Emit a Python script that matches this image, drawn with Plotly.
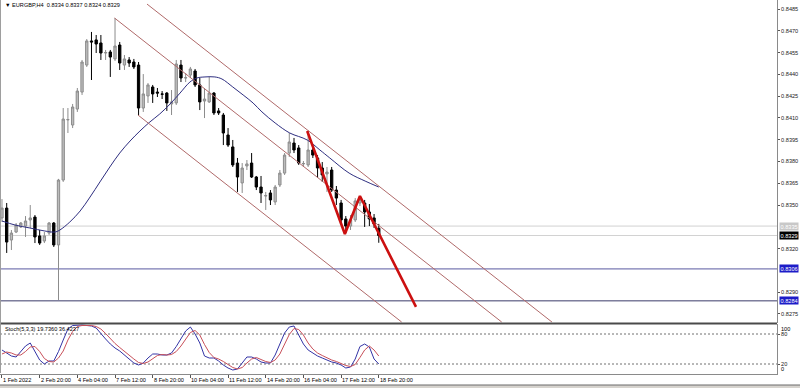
import plotly.graph_objects as go

# ---------------- data ----------------
bars = list(range(81))
opens = [0.83411, 0.83479, 0.83259, 0.83314, 0.83349, 0.83355, 0.83397, 0.83417, 0.83287, 0.83252,
         0.83307, 0.83376, 0.83225, 0.83672, 0.84086, 0.84051, 0.84161, 0.84278, 0.84464, 0.84630,
         0.84637, 0.84616, 0.84547, 0.84554, 0.84506, 0.84602, 0.84464, 0.84499, 0.84485, 0.84464,
         0.84168, 0.84251, 0.84313, 0.84278, 0.84265, 0.84271, 0.84196, 0.84203, 0.84464, 0.84375,
         0.84395, 0.84423, 0.84327, 0.84216, 0.84210, 0.84271, 0.84148, 0.84120, 0.83982, 0.83900,
         0.83789, 0.83652, 0.83769, 0.83789, 0.83693, 0.83624, 0.83562, 0.83583, 0.83521, 0.83638,
         0.83720, 0.83858, 0.83927, 0.83893, 0.83783, 0.83776, 0.83879, 0.83824, 0.83755, 0.83714,
         0.83741, 0.83603, 0.83514, 0.83404, 0.83355, 0.83397, 0.83514, 0.83514, 0.83452, 0.83411,
         0.83340]
highs = [0.83541, 0.83514, 0.83328, 0.83376, 0.83383, 0.83424, 0.83500, 0.83431, 0.83328, 0.83314,
         0.83383, 0.83383, 0.83680, 0.84168, 0.84168, 0.84196, 0.84306, 0.84499, 0.84643, 0.84692,
         0.84671, 0.84671, 0.84568, 0.84568, 0.84788, 0.84623, 0.84533, 0.84519, 0.84506, 0.84485,
         0.84402, 0.84340, 0.84327, 0.84306, 0.84285, 0.84278, 0.84292, 0.84499, 0.84499, 0.84409,
         0.84451, 0.84437, 0.84375, 0.84306, 0.84382, 0.84278, 0.84168, 0.84134, 0.84030, 0.83948,
         0.83824, 0.83789, 0.83810, 0.83858, 0.83700, 0.83700, 0.83590, 0.83603, 0.83638, 0.83741,
         0.83858, 0.83996, 0.83962, 0.83913, 0.83803, 0.84010, 0.83893, 0.83844, 0.83796, 0.83762,
         0.83762, 0.83631, 0.83535, 0.83424, 0.83431, 0.83548, 0.83562, 0.83535, 0.83507, 0.83438,
         0.83370]
lows = [0.83383, 0.83170, 0.83190, 0.83307, 0.83342, 0.83280, 0.83342, 0.83238, 0.83225, 0.83238,
        0.83294, 0.83211, 0.82846, 0.83659, 0.83996, 0.84030, 0.84141, 0.84258, 0.84451, 0.84361,
        0.84547, 0.84499, 0.84499, 0.84382, 0.84492, 0.84430, 0.84430, 0.84451, 0.84437, 0.84120,
        0.84141, 0.84203, 0.84203, 0.84244, 0.84230, 0.84148, 0.84120, 0.84189, 0.84347, 0.84347,
        0.84375, 0.84313, 0.84154, 0.84099, 0.84203, 0.84120, 0.84120, 0.83913, 0.83900, 0.83762,
        0.83590, 0.83583, 0.83741, 0.83686, 0.83603, 0.83514, 0.83466, 0.83500, 0.83500, 0.83624,
        0.83707, 0.83831, 0.83858, 0.83776, 0.83762, 0.83762, 0.83824, 0.83686, 0.83659, 0.83590,
        0.83590, 0.83500, 0.83369, 0.83307, 0.83328, 0.83383, 0.83493, 0.83349, 0.83355, 0.83342,
        0.83240]
closes = [0.83479, 0.83245, 0.83307, 0.83362, 0.83376, 0.83390, 0.83411, 0.83280, 0.83238, 0.83287,
          0.83376, 0.83225, 0.83672, 0.84092, 0.84089, 0.84175, 0.84285, 0.84485, 0.84630, 0.84623,
          0.84609, 0.84547, 0.84550, 0.84519, 0.84595, 0.84478, 0.84506, 0.84478, 0.84451, 0.84168,
          0.84265, 0.84327, 0.84265, 0.84271, 0.84263, 0.84203, 0.84210, 0.84471, 0.84375, 0.84377,
          0.84437, 0.84327, 0.84210, 0.84230, 0.84271, 0.84134, 0.84134, 0.83996, 0.83913, 0.83776,
          0.83693, 0.83755, 0.83783, 0.83693, 0.83624, 0.83583, 0.83565, 0.83535, 0.83624, 0.83720,
          0.83844, 0.83934, 0.83879, 0.83789, 0.83786, 0.83879, 0.83844, 0.83755, 0.83707, 0.83727,
          0.83603, 0.83548, 0.83397, 0.83355, 0.83397, 0.83528, 0.83541, 0.83452, 0.83404, 0.83369,
          0.83290]

# moving average (read at selected bars)
ma_bars = [0, 2.8, 5.9, 9.1, 11.3, 12.3, 14.4, 16.6, 18.7, 20.8, 22.9, 25, 27.2, 29.3, 31.4, 33.5,
           35.7, 37.8, 39.9, 41.4, 43.1, 45.2, 46.7, 49, 51.2, 53.3, 55.2, 58, 61.1, 64.8, 67.5,
           69.6, 73.7, 77.1, 80]
ma_vals = [0.83390, 0.83362, 0.83342, 0.83321, 0.83314, 0.83328, 0.83383, 0.83459, 0.83555, 0.83659,
           0.83762, 0.83858, 0.83941, 0.84010, 0.84072, 0.84127, 0.84196, 0.84271, 0.84347, 0.84375,
           0.84382, 0.84382, 0.84368, 0.84313, 0.84258, 0.84203, 0.84141, 0.84065, 0.83996, 0.83948,
           0.83879, 0.83824, 0.83720, 0.83665, 0.83624]

# stochastic (5,3,3)
stoch_main = [48, 42, 36, 34, 45, 56, 62, 45, 28, 20, 26, 26, 45, 68, 90, 97, 98, 98, 97, 96,
              92, 80, 70, 60, 52, 46, 38, 30, 22, 18, 22, 32, 40, 40, 38, 38, 42, 55, 70, 86,
              94, 80, 62, 36, 32, 32, 26, 18, 12, 8, 10, 22, 34, 34, 30, 24, 22, 22, 38, 60,
              82, 94, 96, 78, 60, 48, 42, 36, 32, 28, 24, 22, 18, 12, 14, 30, 55, 60, 54, 30,
              20]
stoch_signal = [40, 44, 42, 38, 38, 45, 54, 55, 45, 31, 25, 24, 32, 46, 68, 85, 95, 97, 97, 97,
                95, 90, 81, 70, 61, 53, 45, 38, 30, 23, 21, 24, 31, 37, 39, 38, 39, 45, 56, 70,
                83, 87, 78, 59, 43, 33, 30, 25, 19, 13, 10, 13, 22, 30, 33, 29, 25, 23, 28, 40,
                60, 79, 91, 89, 78, 62, 50, 42, 37, 32, 28, 25, 21, 17, 15, 19, 33, 48, 56, 48,
                36]
stoch_levels = [20, 80]

# channel lines and analysis arrow (bar index, price)
channel_x = [[30.79, 116.77], [23.89, 106.1], [28.87, 84.86]]
channel_y = [[0.84884, 0.82694], [0.84788, 0.82694], [0.84120, 0.82694]]
zigzag_x = [64.8, 72.8, 76.0, 87.9]
zigzag_y = [0.84010, 0.83300, 0.83562, 0.82798]

# horizontal levels
hline_levels = [0.83355, 0.83290, 0.83060, 0.82840]
hline_colors = ["#d2d2d2", "#d2d2d2", "#5a5aa0", "#3a3a6a"]
level_labels = ["0.8335", "0.8329", "0.8306", "0.8284"]
level_bg = ["#c8c8c8", "#000000", "#1c1cc8", "#1c1cc8"]

price_ticks = [0.8485, 0.8470, 0.8455, 0.8440, 0.8425, 0.8410, 0.8395, 0.8380, 0.8365,
               0.8350, 0.8320, 0.8290, 0.8275]
time_tick_bars = [0, 8, 16, 24, 32, 40, 48, 56, 64, 72, 80]
time_tick_labels = ["1 Feb 2022", "2 Feb 20:00", "4 Feb 04:00", "7 Feb 12:00", "8 Feb 20:00",
                    "10 Feb 04:00", "11 Feb 12:00", "14 Feb 20:00", "16 Feb 04:00",
                    "17 Feb 12:00", "18 Feb 20:00"]

title_text = "\u25BC EURGBP,H4  0.8334 0.8337 0.8324 0.8329"
stoch_text = "Stoch(5,3,3) 19.7360 36.4237"

# ---------------- layout helpers ----------------
W, H = 800, 388
PW = 777
def py(pix):
    return 1 - pix / H

FONT = "Liberation Sans, Arial, sans-serif"
FS = 5.6

fig = go.Figure()

fig.add_trace(go.Candlestick(
    x=bars, open=opens, high=highs, low=lows, close=closes,
    increasing=dict(line=dict(color="#8c8c8c", width=1), fillcolor="#bcbcbc"),
    decreasing=dict(line=dict(color="#000000", width=1), fillcolor="#000000"),
    whiskerwidth=0, showlegend=False, hoverinfo="skip", xaxis="x", yaxis="y"))

fig.add_trace(go.Scatter(x=ma_bars, y=ma_vals, mode="lines", line=dict(color="#2e2e80", width=1, shape="spline"),
                         showlegend=False, hoverinfo="skip", xaxis="x", yaxis="y"))

for cx, cy in zip(channel_x, channel_y):
    fig.add_trace(go.Scatter(x=cx, y=cy, mode="lines", line=dict(color="#b06a6a", width=1),
                             showlegend=False, hoverinfo="skip", xaxis="x", yaxis="y"))

fig.add_trace(go.Scatter(x=zigzag_x, y=zigzag_y, mode="lines", line=dict(color="#cc1010", width=2.6),
                         showlegend=False, hoverinfo="skip", xaxis="x", yaxis="y"))

fig.add_trace(go.Scatter(x=bars, y=stoch_main, mode="lines", line=dict(color="#3434a6", width=1),
                         showlegend=False, hoverinfo="skip", xaxis="x2", yaxis="y2"))
fig.add_trace(go.Scatter(x=bars, y=stoch_signal, mode="lines", line=dict(color="#c8505a", width=1),
                         showlegend=False, hoverinfo="skip", xaxis="x2", yaxis="y2"))

shapes = []
for lv, col in zip(hline_levels, hline_colors):
    shapes.append(dict(type="line", xref="paper", yref="y", x0=0, x1=1, y0=lv, y1=lv,
                       line=dict(color=col, width=1), layer="below"))
for lv in stoch_levels:
    shapes.append(dict(type="line", xref="paper", yref="y2", x0=0, x1=1, y0=lv, y1=lv,
                       line=dict(color="#707070", width=1, dash="2px,2px"), layer="below"))
# panel separator and frame
shapes.append(dict(type="line", xref="paper", yref="paper", x0=0, x1=1, y0=py(323.5), y1=py(323.5),
                   line=dict(color="#4a4a4a", width=2)))
shapes.append(dict(type="line", xref="paper", yref="paper", x0=0.0006, x1=0.0006, y0=py(0), y1=py(373),
                   line=dict(color="#9a9a9a", width=1)))
shapes.append(dict(type="rect", xref="paper", yref="paper", x0=0, x1=W / PW, y0=0, y1=py(385),
                   fillcolor="#d6d3ce", line=dict(width=0)))
shapes.append(dict(type="line", xref="paper", yref="paper", x0=0, x1=W / PW, y0=py(385), y1=py(385),
                   line=dict(color="#6a6a6a", width=1)))

annotations = []
annotations.append(dict(xref="paper", yref="paper", x=3 / PW, y=py(5), xanchor="left", yanchor="middle",
                        text=title_text, showarrow=False, font=dict(family=FONT, size=FS, color="#000")))
annotations.append(dict(xref="paper", yref="paper", x=3 / PW, y=py(328.5), xanchor="left", yanchor="middle",
                        text=stoch_text, showarrow=False, font=dict(family=FONT, size=FS, color="#000")))
for lv, lab, bg in zip(hline_levels, level_labels, level_bg):
    annotations.append(dict(xref="paper", yref="y", x=1, y=lv, xanchor="left", yanchor="middle", xshift=2,
                            text=lab, showarrow=False, bgcolor=bg, borderpad=0.5,
                            font=dict(family=FONT, size=FS, color="#ffffff")))
for b, lab in zip(time_tick_bars, time_tick_labels):
    annotations.append(dict(xref="x2", yref="paper", x=b, y=py(379.5), xanchor="left", yanchor="middle",
                            xshift=-1, text=lab, showarrow=False, font=dict(family=FONT, size=FS, color="#000")))
annotations.append(dict(xref="paper", yref="y2", x=1, y=100, xanchor="left", yanchor="top", xshift=2,
                        text="100", showarrow=False, font=dict(family=FONT, size=FS, color="#000")))
annotations.append(dict(xref="paper", yref="y2", x=1, y=0, xanchor="left", yanchor="bottom", xshift=2,
                        text="0", showarrow=False, font=dict(family=FONT, size=FS, color="#000")))

xr = [-0.42, -0.42 + PW / 4.71]
price_lo = 0.8485 - (314 / 1.452) / 10000
price_hi = 0.8485 + (9 / 1.452) / 10000

fig.update_layout(
    width=W, height=H,
    margin=dict(l=0, r=W - PW, t=0, b=0),
    paper_bgcolor="#ffffff", plot_bgcolor="#ffffff",
    showlegend=False,
    font=dict(family=FONT, size=FS, color="#000"),
    xaxis=dict(domain=[0, 1], range=xr, anchor="y", showticklabels=False, showgrid=False, zeroline=False,
               rangeslider=dict(visible=False), showline=False, ticks=""),
    yaxis=dict(domain=[py(323), 1], range=[price_lo, price_hi], side="right", anchor="x",
               tickvals=price_ticks, ticktext=["%.4f" % v for v in price_ticks],
               ticks="outside", ticklen=2, tickcolor="#555", showgrid=False, zeroline=False,
               showline=True, linecolor="#8a8a8a", linewidth=1, automargin=False,
               tickfont=dict(family=FONT, size=FS, color="#222")),
    xaxis2=dict(domain=[0, 1], range=xr, anchor="y2", matches="x", showgrid=False, zeroline=False,
                tickvals=time_tick_bars, showticklabels=False, ticks="outside", ticklen=3, tickcolor="#555",
                showline=True, linecolor="#8a8a8a", linewidth=1),
    yaxis2=dict(domain=[py(374), py(324)], range=[0, 100], side="right", anchor="x2",
                tickvals=[20, 80], ticktext=["20", "80"], ticks="outside", ticklen=2, tickcolor="#555",
                showgrid=False, zeroline=False, showline=True, linecolor="#8a8a8a", linewidth=1,
                automargin=False, tickfont=dict(family=FONT, size=FS, color="#222")),
    shapes=shapes, annotations=annotations,
)

fig.write_html("out.html", config={"displayModeBar": False, "staticPlot": True},
               post_script="document.body.style.margin='0px';document.body.style.overflow='hidden';")
